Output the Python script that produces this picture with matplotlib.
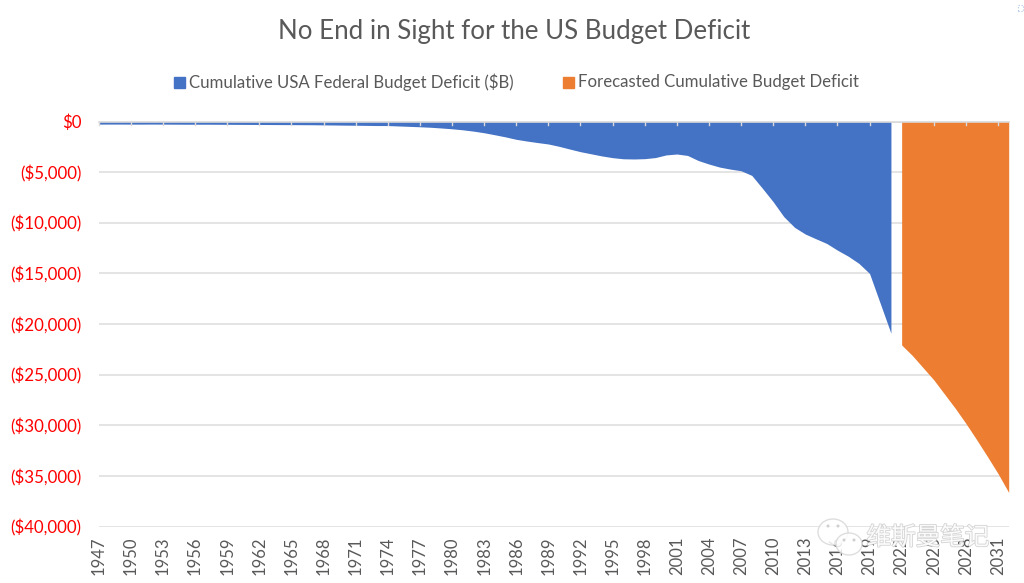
import matplotlib
matplotlib.use("Agg")
import matplotlib.pyplot as plt
import matplotlib.patheffects as pe
from matplotlib.patches import Ellipse, Rectangle

# values in $B
hist_years = list(range(1947, 2022))
hist_deficit = [
    -260, -255, -255,                                                    # 1947-49
    -260, -260, -255, -260, -265, -270, -270, -270, -275, -280,          # 1950s
    -285, -290, -295, -300, -305, -310, -315, -320, -335, -345,          # 1960s
    -360, -370, -385, -400, -400, -440, -480, -520, -570, -640,          # 1970s
    -720, -820, -950, -1110, -1310, -1520, -1760, -1930, -2080, -2220,   # 1980s
    -2450, -2720, -2980, -3190, -3400, -3570, -3680, -3700, -3670, -3560,  # 1990s
    -3300, -3210, -3350, -3850, -4200, -4500, -4700, -4860, -5320, -6600,  # 2000s
    -7920, -9400, -10450, -11110, -11580, -12040, -12700, -13290, -14000, -15000,  # 2010s
    -17950, -20900,                                                      # 2020-21
]
fc_years = list(range(2022, 2033))
fc_deficit = [-22060, -23100, -24300, -25500, -26900, -28300, -29800, -31400, -33050, -34750, -36620]

ytick_vals = [0, -5000, -10000, -15000, -20000, -25000, -30000, -35000, -40000]
ytick_labels = ["$0", "($5,000)", "($10,000)", "($15,000)", "($20,000)",
                "($25,000)", "($30,000)", "($35,000)", "($40,000)"]
xtick_years = list(range(1947, 2032, 3))

plt.rcParams["font.family"] = ["Lato", "Noto Sans CJK SC", "DejaVu Sans"]

fig = plt.figure(figsize=(10.24, 5.83), dpi=100)
ax = fig.add_axes([98.7 / 1024, 1 - 526.7 / 583, 910 / 1024, 405.2 / 583])

ax.fill_between(hist_years, hist_deficit, 0, color="#4472C4", lw=0, zorder=2)
ax.fill_between(fc_years, fc_deficit, 0, color="#ED7D31", lw=0, zorder=2)

ax.set_xlim(1947, 2032)
ax.set_ylim(-40000, 0)
ax.set_yticks(ytick_vals)
ax.set_yticklabels(ytick_labels, color="#FF0000", fontsize=12.2)
ax.set_xticks(xtick_years)
ax.set_xticklabels(xtick_years, rotation=90, color="#595959", fontsize=12)
ax.grid(axis="y", color="#E2E2E2", lw=1.3, zorder=1)
ax.set_axisbelow(True)
for s in ["left", "right", "bottom"]:
    ax.spines[s].set_visible(False)
ax.spines["top"].set_color("#D9D9D9")
ax.spines["top"].set_linewidth(1.2)
ax.spines["top"].set_zorder(5)

# ticks hang down from the zero line, the labels stay at the bottom
ax.tick_params(axis="y", length=0, pad=12.5)
ax.tick_params(axis="x", length=0, pad=7)
for yr in xtick_years:
    if yr != 2022:
        ax.plot([yr, yr], [0, -350], color="#D9D9D9", lw=1, zorder=4, clip_on=False)

fig.text(514 / 1024, 1 - 32 / 583, "No End in Sight for the US Budget Deficit",
         ha="center", va="center", fontsize=18.6, color="#595959")

fig.add_artist(Rectangle((174 / 1024, 1 - 88 / 583), 11 / 1024, 11 / 583,
                         transform=fig.transFigure, color="#4472C4"))
fig.text(189 / 1024, 1 - 82 / 583, "Cumulative USA Federal Budget Deficit ($B)",
         va="center", fontsize=12.1, color="#595959")
fig.add_artist(Rectangle((563 / 1024, 1 - 88 / 583), 11 / 1024, 11 / 583,
                         transform=fig.transFigure, color="#ED7D31"))
fig.text(578 / 1024, 1 - 82 / 583, "Forecasted Cumulative Budget Deficit",
         va="center", fontsize=12.1, color="#595959")

# faint watermark bottom right
for cx, cy, w, h in [(833, 532, 30, 26), (849, 544, 26, 22)]:
    fig.add_artist(Ellipse((cx / 1024, 1 - cy / 583), w / 1024, h / 583,
                           transform=fig.transFigure, fc="white", ec="#D8D8D8",
                           lw=1, alpha=0.85, zorder=6))
for cx, cy in [(828, 526), (838, 526), (844, 540), (854, 540)]:
    fig.add_artist(Ellipse((cx / 1024, 1 - cy / 583), 3 / 1024, 3 / 583,
                           transform=fig.transFigure, fc="#CFCFCF", ec="none", zorder=7))
fig.text(928 / 1024, 1 - 537 / 583, "维斯曼笔记", ha="center", va="center",
         fontsize=17.7, color="white", alpha=0.9, zorder=7,
         path_effects=[pe.withStroke(linewidth=1.2, foreground="#CFCFCF")])

# small mark in the top right corner
fig.add_artist(Rectangle((1018 / 1024, 1 - 11 / 583), 5 / 1024, 6 / 583,
                         transform=fig.transFigure, fc="none", ec="#A9C4E8",
                         lw=0.8, ls=":"))

fig.savefig("out.png", dpi=100)
